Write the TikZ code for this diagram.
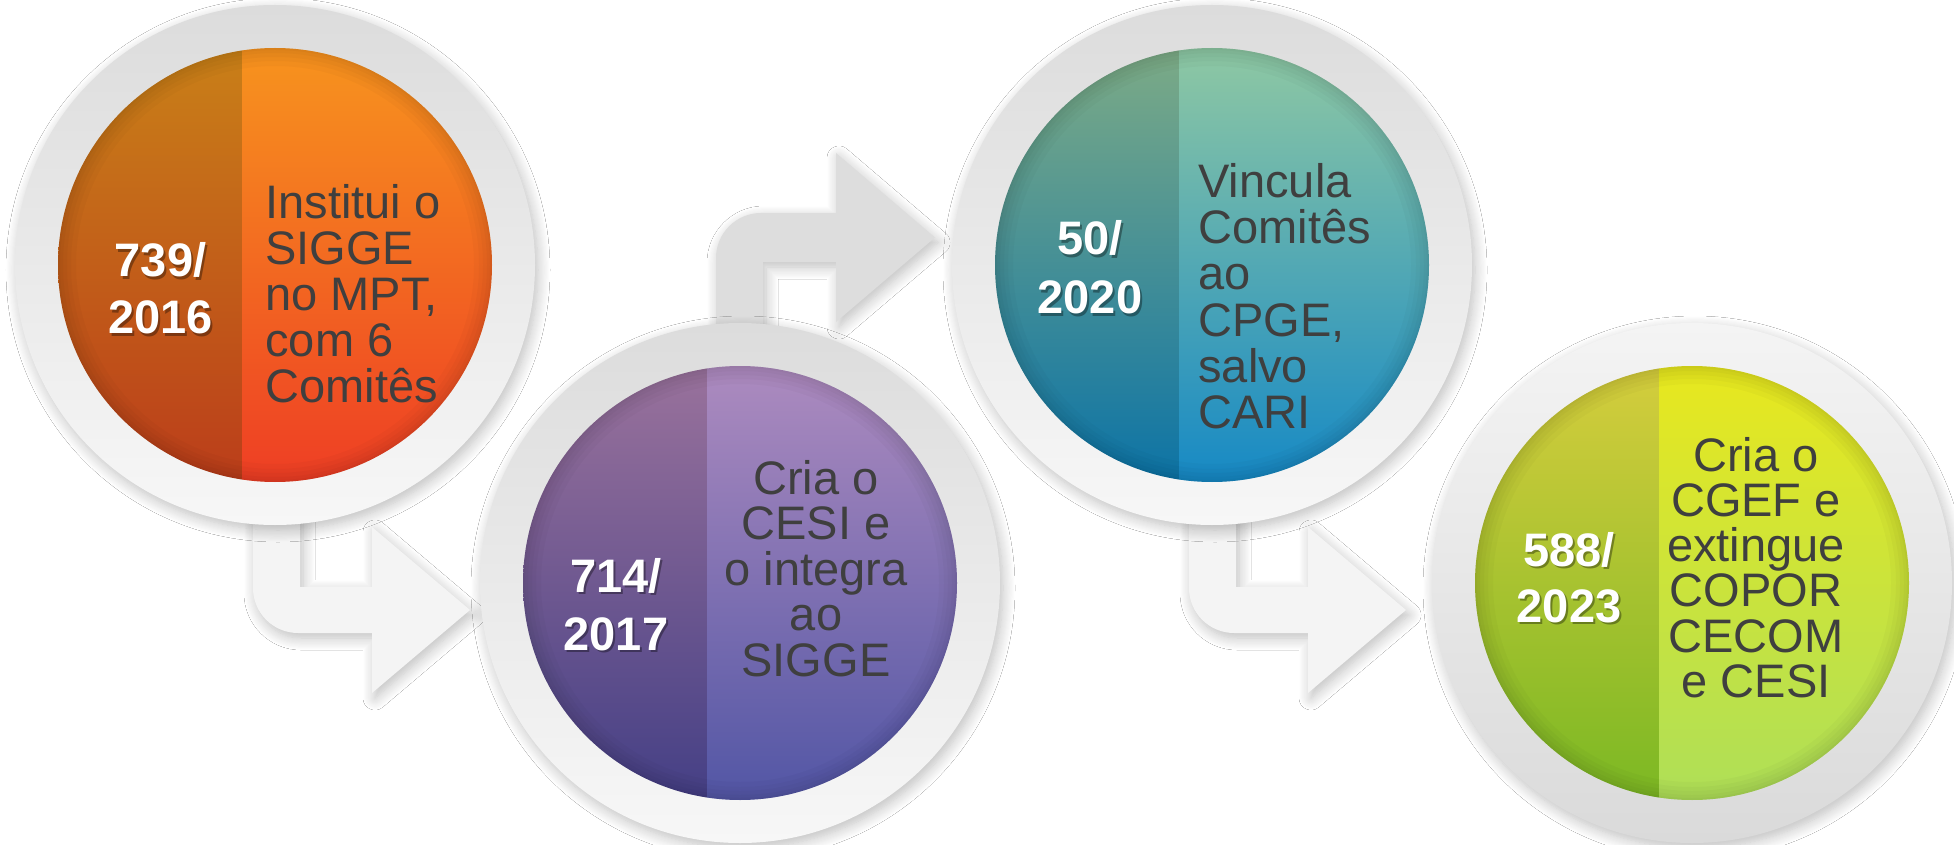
\documentclass[tikz,border=0pt]{standalone}
\usepackage{fontspec}
\setmainfont{Liberation Sans}
\usetikzlibrary{calc,shadows.blur}

\definecolor{ringtop}{HTML}{DCDCDC}
\definecolor{ringbot}{HTML}{F7F7F7}
\definecolor{ringBtop}{HTML}{F4F4F4}
\definecolor{ringBbot}{HTML}{DADADA}
\definecolor{arrlight}{HTML}{F4F4F4}
\definecolor{arrdark}{HTML}{DDDDDD}
\definecolor{txt}{HTML}{3F3F3F}
% circle 1 (orange)
\definecolor{aLt}{HTML}{C98018}\definecolor{aLb}{HTML}{BB3D1A}
\definecolor{aRt}{HTML}{F7941E}\definecolor{aRb}{HTML}{EE3E24}
% circle 2 (purple)
\definecolor{bLt}{HTML}{9A729C}\definecolor{bLb}{HTML}{443F85}
\definecolor{bRt}{HTML}{AD8BBF}\definecolor{bRb}{HTML}{5256A5}
% circle 3 (teal)
\definecolor{cLt}{HTML}{7DAB86}\definecolor{cLb}{HTML}{0C73A6}
\definecolor{cRt}{HTML}{8FC8A3}\definecolor{cRb}{HTML}{1689C5}
% circle 4 (green)
\definecolor{dLt}{HTML}{D5CD3D}\definecolor{dLb}{HTML}{7BB823}
\definecolor{dRt}{HTML}{E8E81E}\definecolor{dRb}{HTML}{AEDF58}

\begin{document}
\begin{tikzpicture}[x=0.5pt,y=-0.5pt,
  softshadow/.style={blur shadow={shadow xshift=1.5pt,shadow yshift=-2.5pt,
     shadow blur radius=6pt,shadow opacity=26,shadow blur steps=12}},
  arrowshape/.style={softshadow,fill=#1},
  ringshape/.style={softshadow},
  num/.style={font=\fontsize{23.5}{23.5}\selectfont\bfseries,text=white,inner sep=0pt,anchor=base},
  numshadow/.style={font=\fontsize{23.5}{23.5}\selectfont\bfseries,text=black,opacity=0.35,inner sep=0pt,anchor=base},
  rtext/.style={font=\fontsize{23.5}{23.5}\selectfont,text=txt,inner sep=0pt},
]
\useasboundingbox (0,0) rectangle (1954,845);
\fill[white] (0,0) rectangle (1954,845);

\coordinate (c1) at (275,265);
\coordinate (c2) at (740,583);
\coordinate (c3) at (1212,265);
\coordinate (c4) at (1692,583);

% ---- arrows (drawn beneath the circles) ----
\begin{scope}[shift={(c1)}]
  \path[arrowshape=arrlight] (-22,120) -- (-22,323) .. controls (-22,347.85) and (-1.85,368) .. (23,368)
     -- (97,368) -- (97,428) -- (195,345) -- (97,262) -- (97,322) -- (25,322) -- (25,120) -- cycle;
\end{scope}
\begin{scope}[shift={(c2)}]
  \path[arrowshape=arrdark] (-24,-120) -- (-24,-325) .. controls (-24,-349.85) and (-3.85,-370) .. (21,-370)
     -- (96,-370) -- (96,-430) -- (195,-345.5) -- (96,-261) -- (96,-321) -- (23,-321) -- (23,-120) -- cycle;
\end{scope}
\begin{scope}[shift={(c3)}]
  \path[arrowshape=arrlight] (-23,120) -- (-23,323) .. controls (-23,347.85) and (-2.85,368) .. (22,368)
     -- (96,368) -- (96,428) -- (194,345) -- (96,262) -- (96,322) -- (24,322) -- (24,120) -- cycle;
\end{scope}

% ---- rings ----
\path[ringshape,top color=ringtop,bottom color=ringbot] (c1) circle[radius=260];
\path[ringshape,top color=ringtop,bottom color=ringbot] (c2) circle[radius=260];
\path[ringshape,top color=ringtop,bottom color=ringbot] (c3) circle[radius=260];
\path[ringshape,top color=ringBtop,bottom color=ringBbot] (c4) circle[radius=260];

% ---- inner two-tone discs ----
\foreach \c/\p in {c1/a,c2/b,c3/c,c4/d}{
  \begin{scope}
    \clip (\c) circle[radius=217];
    \shade[top color=\p Lt,bottom color=\p Lb] ($(\c)+(-218,-218)$) rectangle ($(\c)+(-33,218)$);
    \shade[top color=\p Rt,bottom color=\p Rb] ($(\c)+(-33,-218)$) rectangle ($(\c)+(218,218)$);
    \foreach \w in {18,13,9,5,2}
      \draw[black,opacity=0.022,line width=\w pt] (\c) circle[radius=217];
  \end{scope}
}

% ---- numbers ----
\node[numshadow] (n1as) at (162.5,279) {739/};
\node[numshadow] (n1bs) at (162.5,336) {2016};
\node[num] (n1a) at (160.5,277) {739/};
\node[num] (n1b) at (160.5,334) {2016};

\node[numshadow] (n2as) at (618,594) {714/};
\node[numshadow] (n2bs) at (618,652) {2017};
\node[num] (n2a) at (616,592) {714/};
\node[num] (n2b) at (616,650) {2017};

\node[numshadow] (n3as) at (1092,257) {50/};
\node[numshadow] (n3bs) at (1092,316) {2020};
\node[num] (n3a) at (1090,255) {50/};
\node[num] (n3b) at (1090,314) {2020};

\node[numshadow] (n4as) at (1571,568) {588/};
\node[numshadow] (n4bs) at (1571,624) {2023};
\node[num] (n4a) at (1569,566) {588/};
\node[num] (n4b) at (1569,622) {2023};

% ---- descriptions ----
\foreach \t [count=\i from 0] in {Institui o,SIGGE,{no MPT,},com 6,Comitês}
  \node[rtext,anchor=base west] (t1-\i) at (265,{219+45.75*\i}) {\t};
\foreach \t [count=\i from 0] in {Cria o,CESI e,o integra,ao,SIGGE}
  \node[rtext,anchor=base] (t2-\i) at (816,{494+45.5*\i}) {\t};
\foreach \t [count=\i from 0] in {Vincula,Comitês,ao,{CPGE,},salvo,CARI}
  \node[rtext,anchor=base west] (t3-\i) at (1198,{198+46*\i}) {\t};
\foreach \t [count=\i from 0] in {Cria o,CGEF e,extingue,COPOR,CECOM,e CESI}
  \node[rtext,anchor=base] (t4-\i) at (1756,{471+45.3*\i}) {\t};
\end{tikzpicture}
\end{document}
